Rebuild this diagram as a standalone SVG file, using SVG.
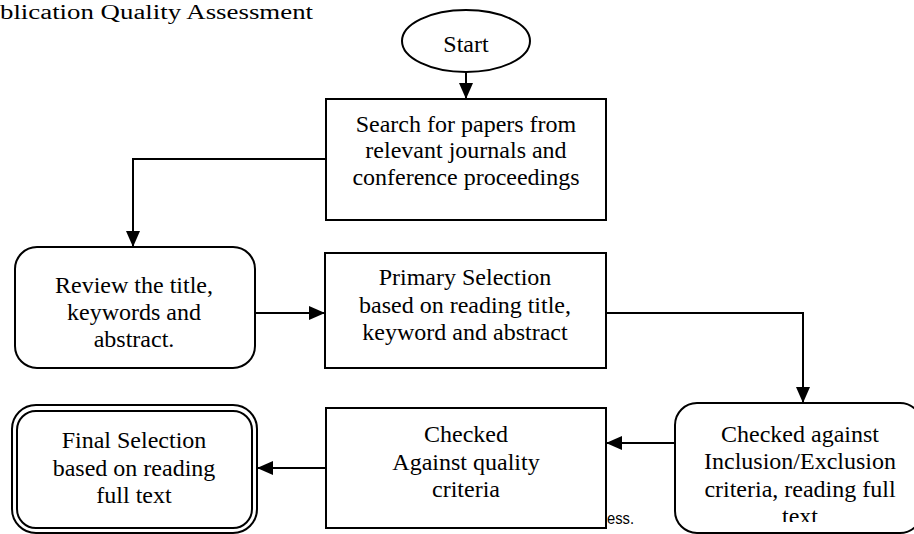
<svg xmlns="http://www.w3.org/2000/svg" width="914" height="534" viewBox="0 0 914 534">
  <style>
    .box { fill: #ffffff; stroke: #000000; stroke-width: 2; }
    .lbl { font-family: "Liberation Serif", "Times New Roman", serif; font-size: 24px; fill: #000000; text-anchor: middle; }
    .conn { fill: none; stroke: #000000; stroke-width: 2; }
  </style>
  <defs>
    <marker id="ah" markerWidth="16" markerHeight="14" refX="16" refY="7" orient="auto" markerUnits="userSpaceOnUse">
      <path d="M0,0 L16,7 L0,14 Z" fill="#000000"/>
    </marker>
    <clipPath id="clipInc">
      <rect x="675" y="403" width="250" height="119"/>
    </clipPath>
  </defs>
  <rect x="0" y="0" width="914" height="534" fill="#ffffff"/>

  <text x="0" y="19" font-family="Liberation Serif, Times New Roman, serif" font-size="20" textLength="313" lengthAdjust="spacingAndGlyphs">blication Quality Assessment</text>

  <text x="607" y="524" font-family="Liberation Sans, Arial, sans-serif" font-size="17" textLength="27" lengthAdjust="spacingAndGlyphs">ess.</text>

  <g id="connectors">
    <path class="conn" d="M466,72 V99" marker-end="url(#ah)"/>
    <path class="conn" d="M326,159 H133 V247" marker-end="url(#ah)"/>
    <path class="conn" d="M255,313 H325" marker-end="url(#ah)"/>
    <path class="conn" d="M606,313 H803 V403" marker-end="url(#ah)"/>
    <path class="conn" d="M675,443 H606" marker-end="url(#ah)"/>
    <path class="conn" d="M326,468 H257" marker-end="url(#ah)"/>
  </g>

  <g id="start">
    <ellipse class="box" cx="466" cy="41" rx="64" ry="31"/>
    <text class="lbl" x="466" y="52" font-size="26">Start</text>
  </g>

  <g id="search">
    <rect class="box" x="326" y="99" width="280" height="121"/>
    <text class="lbl" x="466" y="132">Search for papers from</text>
    <text class="lbl" x="466" y="158">relevant journals and</text>
    <text class="lbl" x="466" y="185">conference proceedings</text>
  </g>

  <g id="review">
    <rect class="box" x="15" y="247" width="240" height="121" rx="22" ry="22"/>
    <text class="lbl" x="134" y="293">Review the title,</text>
    <text class="lbl" x="134" y="320">keywords and</text>
    <text class="lbl" x="134" y="347">abstract.</text>
  </g>

  <g id="primary">
    <rect class="box" x="325" y="253" width="281" height="115"/>
    <text class="lbl" x="465" y="285">Primary Selection</text>
    <text class="lbl" x="465" y="313">based on reading title,</text>
    <text class="lbl" x="465" y="340">keyword and abstract</text>
  </g>

  <g id="inclusion">
    <rect class="box" x="675" y="403" width="247" height="130" rx="22" ry="22"/>
    <g clip-path="url(#clipInc)">
      <text class="lbl" x="800" y="442">Checked against</text>
      <text class="lbl" x="800" y="469">Inclusion/Exclusion</text>
      <text class="lbl" x="800" y="497">criteria, reading full</text>
      <text class="lbl" x="800" y="524">text</text>
    </g>
  </g>

  <g id="quality">
    <rect class="box" x="326" y="408" width="280" height="120"/>
    <text class="lbl" x="466" y="442">Checked</text>
    <text class="lbl" x="466" y="470">Against quality</text>
    <text class="lbl" x="466" y="497">criteria</text>
  </g>

  <g id="final">
    <rect class="box" x="12" y="405" width="245" height="128" rx="24" ry="24"/>
    <rect class="box" x="17" y="411" width="235" height="117" rx="19" ry="19"/>
    <text class="lbl" x="134" y="448">Final Selection</text>
    <text class="lbl" x="134" y="476">based on reading</text>
    <text class="lbl" x="134" y="503">full text</text>
  </g>
</svg>
